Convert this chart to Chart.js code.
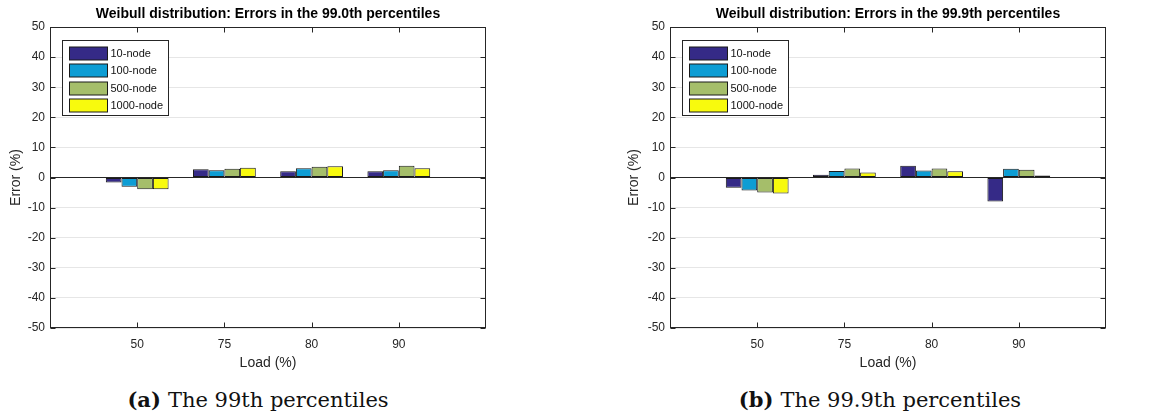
<!DOCTYPE html>
<html>
<head>
<meta charset="utf-8">
<script src="https://cdn.jsdelivr.net/npm/chart.js@4/dist/chart.umd.min.js"></script>
<style>
  body { margin: 0; background: #fff; width: 1156px; height: 416px; position: relative; overflow: hidden; }
  canvas { position: absolute; top: 0; }
  .caption { position: absolute; top: 389px; font-family: "DejaVu Serif", serif; font-size: 21px; line-height: 21px; white-space: nowrap; transform: translateX(-50%); color: #111; }
  .caption b { margin-right: 7px; }
</style>
</head>
<body>
<canvas id="p99" style="left:0px"></canvas>
<canvas id="p999" style="left:578px"></canvas>
<div class="caption" style="left:258px"><b>(a)</b>The 99th percentiles</div>
<div class="caption" style="left:880px"><b>(b)</b>The 99.9th percentiles</div>

<script>
// load levels on the x axis
const loads = ['50', '75', '80', '90'];
const nodeLabels = ['10-node', '100-node', '500-node', '1000-node'];
const nodeColors = ['#352a87', '#0d9dd4', '#a5be6a', '#f8fa0d'];

// errors (%) in the 99.0th percentiles
const p99_10 = [-1.7, 2.7, 2.1, 2.1];
const p99_100 = [-3.1, 2.4, 3.1, 2.4];
const p99_500 = [-3.9, 2.9, 3.6, 3.9];
const p99_1000 = [-3.9, 3.2, 3.7, 3.1];

// errors (%) in the 99.9th percentiles
const p999_10 = [-3.4, 0.9, 3.9, -8.0];
const p999_100 = [-4.3, 2.2, 2.3, 2.9];
const p999_500 = [-5.0, 3.0, 3.0, 2.6];
const p999_1000 = [-5.3, 1.7, 2.1, 0.7];

const AXIS = '#262626';
const sans = 'Liberation Sans, Arial, sans-serif';

/* box, inward ticks and boxed legend, matlab style */
const matlabAxes = {
  id: 'matlabAxes',
  afterDatasetsDraw(chart) {
    const { ctx, chartArea: a, scales: { x, y } } = chart;
    const L = Math.round(a.left) + 0.5, R = Math.round(a.right) - 0.5;
    const T = Math.round(a.top) + 0.5, B = Math.round(a.bottom) - 0.5;
    ctx.save();
    ctx.strokeStyle = AXIS;
    ctx.lineWidth = 1;
    ctx.beginPath();
    y.ticks.forEach(t => {
      const py = Math.round(y.getPixelForValue(t.value)) + 0.5;
      ctx.moveTo(L, py); ctx.lineTo(L + 5, py);
      ctx.moveTo(R, py); ctx.lineTo(R - 5, py);
    });
    x.ticks.forEach((t, i) => {
      if (!chart.data.labels[i]) return;
      const px = Math.round(x.getPixelForValue(i)) + 0.5;
      ctx.moveTo(px, B); ctx.lineTo(px, B - 5);
      ctx.moveTo(px, T); ctx.lineTo(px, T + 5);
    });
    ctx.stroke();
    ctx.strokeRect(L, T, R - L, B - T);

    // legend
    const lx = Math.round(a.left) + 12.5, ly = Math.round(a.top) + 13.5;
    ctx.fillStyle = '#fff';
    ctx.fillRect(lx, ly, 106, 75);
    ctx.strokeRect(lx, ly, 106, 75);
    ctx.font = '11px ' + sans;
    ctx.textBaseline = 'middle';
    chart.data.datasets.forEach((ds, i) => {
      const cy = ly + 13 + i * 17.3;
      ctx.fillStyle = ds.backgroundColor;
      ctx.fillRect(lx + 7, Math.round(cy - 6.5), 38, 13);
      ctx.strokeStyle = '#1a1a1a';
      ctx.strokeRect(lx + 7, Math.round(cy - 6.5), 38, 13);
      ctx.fillStyle = '#111';
      ctx.fillText(ds.label, lx + 48, cy + 0.5);
    });
    ctx.restore();
  }
};

const makeChart = (id, pad, title, series) => {
  const canvas = document.getElementById(id);
  canvas.width = 578;
  canvas.height = 380;
  return new Chart(canvas, {
    type: 'bar',
    data: {
      labels: ['', ...loads, ''],
      datasets: series.map((vals, i) => ({
        label: nodeLabels[i],
        data: [null, ...vals, null],
        backgroundColor: nodeColors[i],
        borderColor: '#1a1a1a',
        borderWidth: 1,
        borderSkipped: false,
        categoryPercentage: 0.72,
        barPercentage: 1
      }))
    },
    options: {
      responsive: false,
      animation: false,
      layout: { padding: { left: pad.left, right: pad.right, top: 0, bottom: 5 } },
      plugins: {
        legend: { display: false },
        tooltip: { enabled: false },
        title: {
          display: true,
          text: title,
          fullSize: false,
          color: '#000',
          font: { family: sans, size: 14, weight: 'bold' },
          padding: { top: 6, bottom: 4.2 }
        }
      },
      scales: {
        x: {
          offset: false,
          grid: { display: false, drawTicks: false },
          border: { display: false },
          ticks: { color: AXIS, font: { family: sans, size: 12 }, padding: 9, autoSkip: false, maxRotation: 0 },
          title: { display: true, text: 'Load (%)', color: AXIS, font: { family: sans, size: 14 }, padding: { top: 0, bottom: 3.6 } },
          afterFit: s => { s.height = 47; }
        },
        y: {
          min: -50,
          max: 50,
          grid: {
            drawTicks: false,
            color: c => c.tick.value === 0 ? AXIS : '#e6e6e6'
          },
          border: { display: false },
          ticks: { stepSize: 10, color: AXIS, font: { family: sans, size: 12 }, padding: 5 },
          title: { display: true, text: 'Error (%)', color: AXIS, font: { family: sans, size: 14 }, padding: { top: pad.title, bottom: 0 } },
          afterFit: s => { s.width = 50; }
        }
      }
    },
    plugins: [matlabAxes]
  });
};

makeChart('p99', { left: 0, right: 92, title: 8 }, 'Weibull distribution: Errors in the 99.0th percentiles',
  [p99_10, p99_100, p99_500, p99_1000]);
makeChart('p999', { left: 42, right: 50, title: 6 }, 'Weibull distribution: Errors in the 99.9th percentiles',
  [p999_10, p999_100, p999_500, p999_1000]);
</script>
</body>
</html>
